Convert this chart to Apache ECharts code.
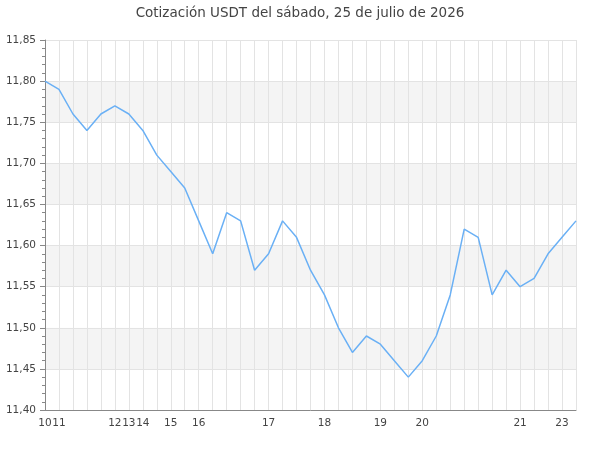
<!DOCTYPE html>
<html>
<head>
<meta charset="utf-8">
<script src="https://cdn.jsdelivr.net/npm/echarts@6/dist/echarts.min.js"></script>
<style>
  html, body { margin: 0; padding: 0; background: #fff; }
  #chart { width: 600px; height: 450px; }
</style>
</head>
<body>
<div id="chart"></div>
<script>
// hour label shown at the first quote of each hour, blank otherwise
const hourLabels = [
  '10', '11', '', '', '', '12', '13', '14', '', '15',
  '', '16', '', '', '', '', '17', '', '', '',
  '18', '', '', '', '19', '', '', '20', '', '',
  '', '', '', '', '21', '', '', '23', ''
];

const usdtPrice = [
  11.80, 11.79, 11.76, 11.74, 11.76, 11.77, 11.76, 11.74, 11.71, 11.69,
  11.67, 11.63, 11.59, 11.64, 11.63, 11.57, 11.59, 11.63, 11.61, 11.57,
  11.54, 11.50, 11.47, 11.49, 11.48, 11.46, 11.44, 11.46, 11.49, 11.54,
  11.62, 11.61, 11.54, 11.57, 11.55, 11.56, 11.59, 11.61, 11.63
];

const chart = echarts.init(document.getElementById('chart'));

chart.setOption({
  animation: false,
  textStyle: { fontFamily: 'DejaVu Sans' },
  title: {
    text: 'Cotización USDT del sábado, 25 de julio de 2026',
    left: 'center',
    top: 1,
    textStyle: { fontSize: 13.5, fontWeight: 'normal', color: '#444' }
  },
  grid: { left: 45, right: 24, top: 40, bottom: 40 },
  xAxis: {
    type: 'category',
    boundaryGap: false,
    data: hourLabels,
    axisLine: { lineStyle: { color: '#888' } },
    axisTick: { show: false },
    axisLabel: {
      interval: 0,
      color: '#444',
      fontSize: 10.5,
      margin: 8
    },
    splitLine: { show: true, lineStyle: { color: '#e3e3e3' } }
  },
  yAxis: {
    type: 'value',
    min: 11.40,
    max: 11.85,
    interval: 0.05,
    axisLine: { show: true, lineStyle: { color: '#888' } },
    axisTick: { show: true, length: 5, lineStyle: { color: '#888' } },
    minorTick: { show: true, splitNumber: 5, length: 3, lineStyle: { color: '#888' } },
    axisLabel: {
      color: '#444',
      fontSize: 10.5,
      margin: 9,
      formatter: v => v.toFixed(2).replace('.', ',')
    },
    splitLine: { show: true, lineStyle: { color: '#e3e3e3' } },
    splitArea: { show: true, areaStyle: { color: ['#ffffff', '#f4f4f4'] } }
  },
  series: [{
    type: 'line',
    data: usdtPrice,
    showSymbol: false,
    lineStyle: { color: '#6ab0f5', width: 1.5 },
    itemStyle: { color: '#6ab0f5' }
  }]
});
</script>
</body>
</html>
